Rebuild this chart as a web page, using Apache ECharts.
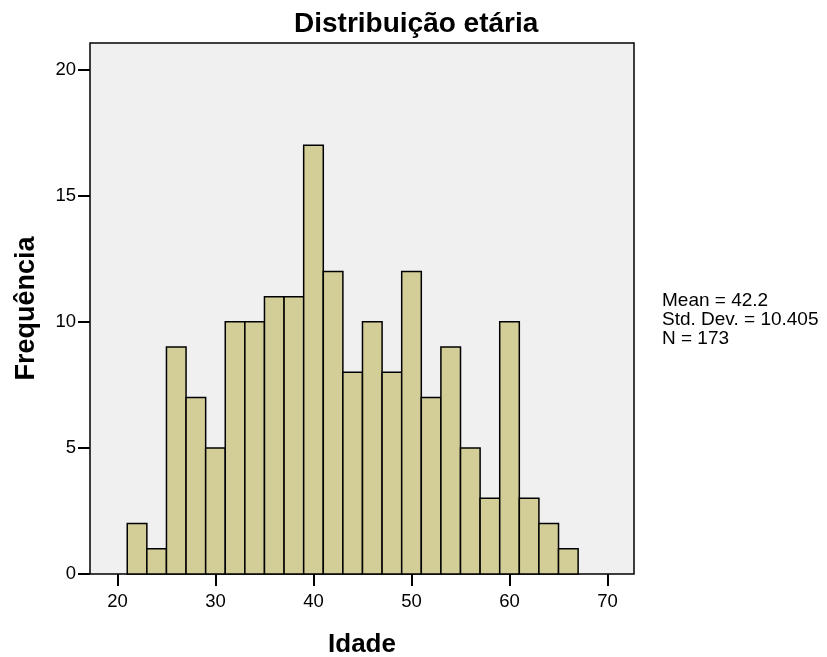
<!DOCTYPE html>
<html>
<head>
<meta charset="utf-8">
<script src="https://cdn.jsdelivr.net/npm/echarts@6/dist/echarts.min.js"></script>
<style>html,body{margin:0;padding:0;background:#fff}#c{width:827px;height:657px}</style>
</head>
<body>
<div id="c"></div>
<script>
var binStarts = [21,23,25,27,29,31,33,35,37,39,41,43,45,47,49,51,53,55,57,59,61,63,65];
var binWidth = 2;
var counts = [2,1,9,7,5,10,10,11,11,17,12,8,10,8,12,7,9,5,3,10,3,2,1];
var xTicks = [20,30,40,50,60,70];
var statsLines = ['Mean = 42.2','Std. Dev. = 10.405','N = 173'];

var data = binStarts.map(function(s,i){return [s, s+binWidth, counts[i]];});
var chart = echarts.init(document.getElementById('c'), null, {renderer:'canvas'});
var font = 'Liberation Sans, Arial, sans-serif';
chart.setOption({
  animation:false,
  backgroundColor:'#ffffff',
  title:[
    {text:'Distribuição etária', left:289, top:5,
     textStyle:{fontFamily:font,fontWeight:'bold',fontSize:28,color:'#000'}},
    {text:statsLines.join('\n'), left:657, top:286,
     textStyle:{fontFamily:font,fontWeight:'normal',fontSize:19,lineHeight:19,color:'#000'}}
  ],
  grid:{left:90,top:43,right:193,bottom:83,containLabel:false,outerBoundsMode:'none',
    show:true,backgroundColor:'#F0F0F0',borderColor:'#000',borderWidth:1.5},
  xAxis:{type:'value',min:17.2,max:72.7,
    name:'Idade',nameLocation:'middle',nameGap:58,
    nameTextStyle:{fontFamily:font,fontWeight:'bold',fontSize:26,color:'#000'},
    axisLine:{show:false},
    axisTick:{show:true,length:12,lineStyle:{color:'#000',width:2},customValues:xTicks},
    axisLabel:{fontFamily:font,fontSize:18.5,color:'#000',margin:18,customValues:xTicks},
    splitLine:{show:false}},
  yAxis:{type:'value',min:0,max:21.06,interval:5,
    name:'Frequência',nameLocation:'middle',nameGap:50,
    nameTextStyle:{fontFamily:font,fontWeight:'bold',fontSize:27,color:'#000'},
    axisLine:{show:false},
    axisTick:{show:true,length:12,lineStyle:{color:'#000',width:2}},
    axisLabel:{fontFamily:font,fontSize:18.5,color:'#000',margin:14,showMaxLabel:false},
    splitLine:{show:false}},
  series:[{
    type:'custom',
    data:data,
    encode:{x:[0,1],y:2},
    renderItem:function(params,api){
      var p0 = api.coord([api.value(0),0]);
      var p1 = api.coord([api.value(1),api.value(2)]);
      return {type:'rect',
        shape:{x:p0[0],y:p1[1],width:p1[0]-p0[0],height:p0[1]-p1[1]},
        style:{fill:'#D3CE98',stroke:'#000',lineWidth:1.5}};
    }
  }]
});
</script>
</body>
</html>
